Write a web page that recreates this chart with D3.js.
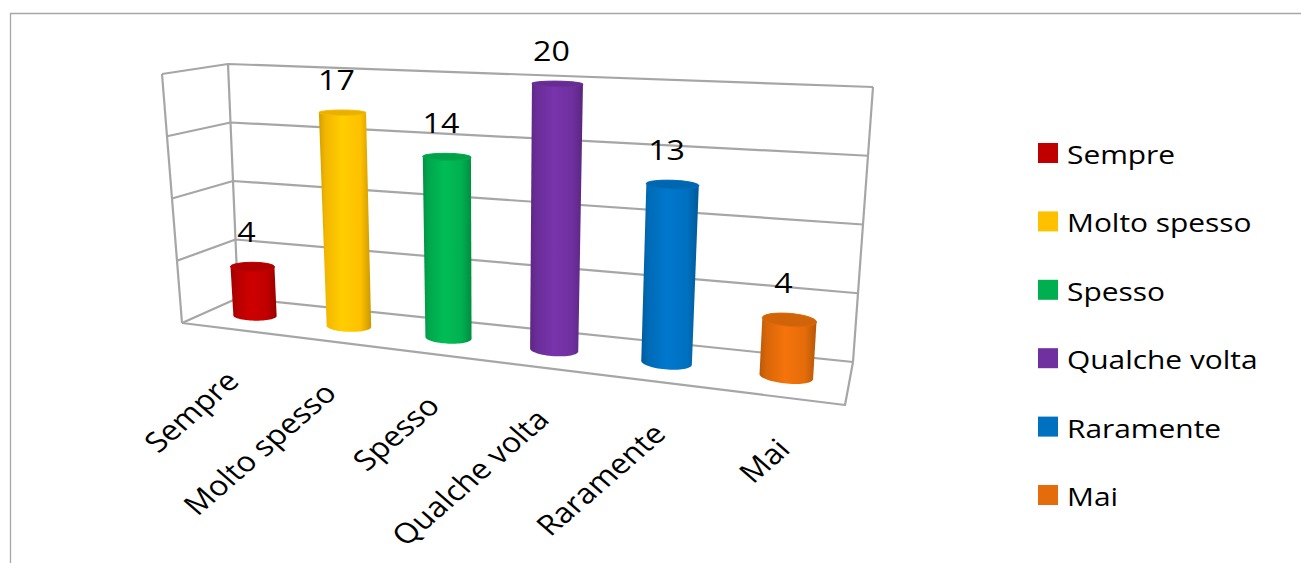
<!DOCTYPE html>
<html>
<head>
<meta charset="utf-8">
<script src="https://cdn.jsdelivr.net/npm/d3@7"></script>
<style>
	body { margin: 0; background: #fff; }
	text { font-family: 'Open Sans', sans-serif; fill: #000; }
</style>
</head>
<body>
<div id="chart-area"></div>
<script>

const categories = ['Sempre', 'Molto spesso', 'Spesso', 'Qualche volta', 'Raramente', 'Mai'];
const values = [4, 17, 14, 20, 13, 4];
const colors = ['#c00000', '#ffc000', '#00b050', '#7030a0', '#0070c0', '#e46c0a'];
const yTicks = [0, 5, 10, 15, 20];

let width = 1301;
let height = 563;

// screen corners of the 3d box (f = front, b = back, b/t = bottom/top, l/r)
let box = {
	fbl: [182, 323], fbr: [845, 405], bbl: [238, 298], bbr: [853, 362],
	ftl: [162, 74], ftr: [863, 106], btl: [228, 64], btr: [873, 87]
};
let persp = 1.2;     // right side is closer to the camera
let stretch = 1.15;  // text in the picture is a little wide

const svg = d3.select('#chart-area').append('svg')
	.attr('width', width)
	.attr('height', height);

// outer frame (only top and left edges are visible)
svg.append('path')
	.attr('d', 'M10.5,' + height + 'V13.5H' + width)
	.attr('fill', 'none')
	.attr('stroke', '#a6a6a6')
	.attr('stroke-width', 1.3);

// scales
let x = d3.scalePoint()
	.domain(categories)
	.range([0, 1])
	.padding(0.5);

let y = d3.scaleLinear()
	.domain([0, d3.max(yTicks)])
	.range([0, 1]);

let warp = u => u / (u + persp * (1 - u));

let lerp = (a, b, t) => [a[0] + (b[0] - a[0]) * t, a[1] + (b[1] - a[1]) * t];
let bilerp = (fl, fr, bl, br, u, w) => lerp(lerp(fl, fr, u), lerp(bl, br, u), w);

// u along categories, value, w depth (0 front, 1 back)
function project(u, val, w) {
	let uu = warp(u);
	let bottom = bilerp(box.fbl, box.fbr, box.bbl, box.bbr, uu, w);
	let top = bilerp(box.ftl, box.ftr, box.btl, box.btr, uu, w);
	return lerp(bottom, top, y(val));
}

let line = d3.line();
let grid = svg.append('g')
	.attr('fill', 'none')
	.attr('stroke', '#a6a6a6')
	.attr('stroke-width', 2.2)
	.attr('stroke-linejoin', 'round');

// back wall and side wall gridlines
yTicks.forEach(t => {
	grid.append('path')
		.attr('d', line([project(0, t, 0), project(0, t, 1), project(1, t, 1)]));
});
let yMax = d3.max(yTicks);
grid.append('path').attr('d', line([project(0, 0, 0), project(0, yMax, 0)]));
grid.append('path').attr('d', line([project(0, 0, 1), project(0, yMax, 1)]));
grid.append('path').attr('d', line([project(1, 0, 1), project(1, yMax, 1)]));
// floor front and right edges
grid.append('path').attr('d', line([project(0, 0, 0), project(1, 0, 0), project(1, 0, 1)]));

// cylinders
let defs = svg.append('defs');
let rx = 0.036, rz = 0.17, depth = 0.5;

categories.forEach((c, i) => {
	let col = d3.color(colors[i]);
	let grad = defs.append('linearGradient')
		.attr('id', 'grad' + i)
		.attr('x1', 0).attr('x2', 1).attr('y1', 0).attr('y2', 0);
	[[0, col.darker(0.55)], [0.12, col.darker(0.15)], [0.45, col.brighter(0.2)],
	 [0.8, col], [1, col.darker(0.65)]].forEach(s => {
		grad.append('stop').attr('offset', s[0]).attr('stop-color', s[1]);
	});

	let cu = x(c);
	let ring = val => d3.range(64).map(k => {
		let a = k / 64 * Math.PI * 2;
		return project(cu + rx * Math.cos(a), val, depth + rz * Math.sin(a));
	});
	let topRing = ring(values[i]);
	let botRing = ring(0);

	svg.append('path')
		.attr('d', line(d3.polygonHull(topRing.concat(botRing))) + 'Z')
		.attr('fill', 'url(#grad' + i + ')');

	svg.append('path')
		.attr('d', line(topRing) + 'Z')
		.attr('fill', col.darker(0.25))
		.attr('stroke', col.darker(0.05))
		.attr('stroke-width', 1);

	// value label
	let cx = d3.mean(topRing, p => p[0]);
	let topY = d3.min(topRing, p => p[1]);
	svg.append('text')
		.attr('transform', 'translate(' + (cx - 6) + ',' + (topY - 20) + ') scale(' + stretch + ',1)')
		.attr('text-anchor', 'middle')
		.attr('font-size', '28px')
		.text(values[i]);

	// category label
	let fp = project(cu, 0, 0);
	svg.append('text')
		.attr('transform', 'translate(' + (fp[0] + 12) + ',' + (fp[1] + 54) + ') scale(' + stretch + ',1) rotate(-45)')
		.attr('text-anchor', 'end')
		.attr('font-size', '28px')
		.text(c);
});

// legend
let legend = svg.append('g')
	.attr('transform', 'translate(1038, 143)');

categories.forEach((c, i) => {
	let row = legend.append('g')
		.attr('transform', 'translate(0, ' + (i * 68.4) + ')');
	row.append('rect')
		.attr('width', 20)
		.attr('height', 20)
		.attr('fill', colors[i]);
	row.append('text')
		.attr('transform', 'translate(29, 21) scale(' + stretch + ',1)')
		.attr('font-size', '26px')
		.text(c);
});

</script>
</body>
</html>
